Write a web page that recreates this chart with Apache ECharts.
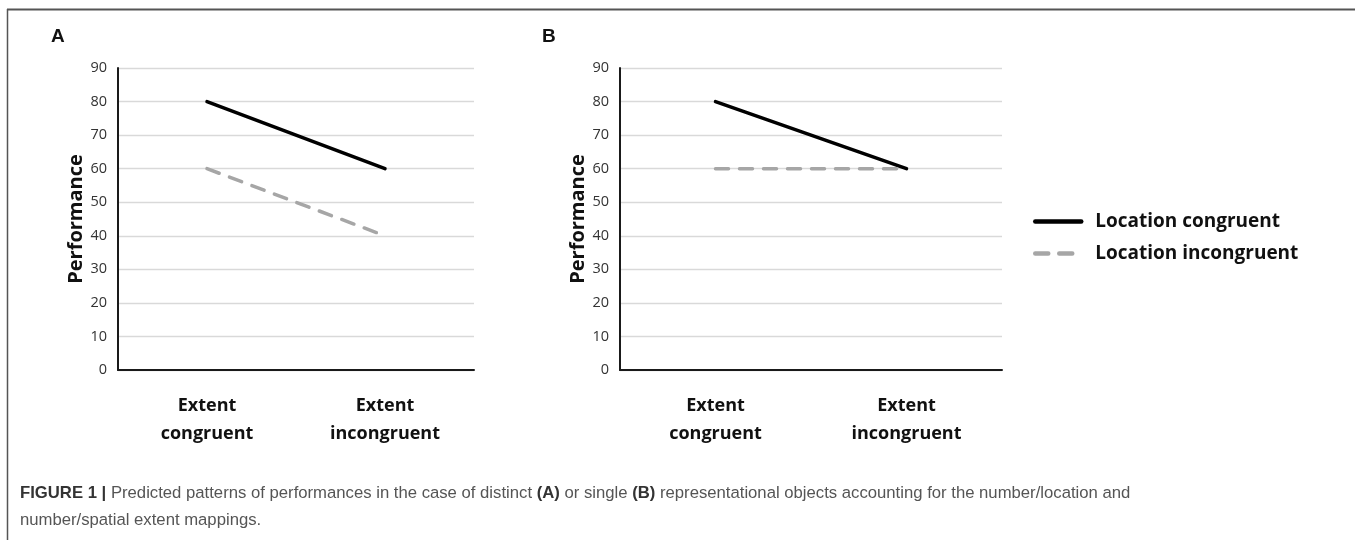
<!DOCTYPE html>
<html>
<head>
<meta charset="utf-8">
<script src="https://cdn.jsdelivr.net/npm/echarts@6/dist/echarts.min.js"></script>
<style>
html,body{margin:0;padding:0;background:#fff;}
#c{width:1355px;height:540px;}
</style>
</head>
<body>
<div id="c"></div>
<script>
var categories = ['Extent\ncongruent', 'Extent\nincongruent'];
var seriesNames = ['Location congruent', 'Location incongruent'];
var panelA_congruent = [80, 60];
var panelA_incongruent = [60, 40];
var panelB_congruent = [80, 60];
var panelB_incongruent = [60, 60];
var yMin = 0, yMax = 90, yStep = 10;
var panelLabels = ['A', 'B'];
var yTitle = 'Performance';

var chart = echarts.init(document.getElementById('c'));
var F = '"Open Sans", sans-serif';

function xAx(gi){
  return {
    type:'category', gridIndex:gi, data:categories, boundaryGap:true,
    axisLine:{show:true, lineStyle:{color:'#1a1a1a', width:2}},
    axisTick:{show:false},
    axisLabel:{fontFamily:F, fontWeight:'bold', fontSize:18, color:'#111', lineHeight:28, margin:22}
  };
}
function yAx(gi){
  return {
    type:'value', gridIndex:gi, min:yMin, max:yMax, interval:yStep,
    name:yTitle, nameLocation:'middle', nameGap:30,
    nameTextStyle:{fontFamily:F, fontWeight:'bold', fontSize:20, color:'#111'},
    axisLine:{show:true, lineStyle:{color:'#1a1a1a', width:2}},
    axisTick:{show:false},
    axisLabel:{fontFamily:F, fontSize:14.5, color:'#333', margin:11},
    splitLine:{show:true, lineStyle:{color:'#d9d9d9', width:1.3}}
  };
}
var solid = {color:'#000', width:3.5, type:'solid', cap:'round'};
var dashed = {color:'#a6a6a6', width:3.5, type:[13,11], cap:'round'};
function ser(name, gi, data, ls){
  return {name:name, type:'line', xAxisIndex:gi, yAxisIndex:gi, data:data,
    symbol:'none', showSymbol:false, lineStyle:ls, itemStyle:{color:ls.color}, silent:true, animation:false};
}

chart.setOption({
  animation:false,
  grid:[
    {left:118, top:68, width:356, height:302},
    {left:620, top:68, width:382, height:302}
  ],
  xAxis:[xAx(0), xAx(1)],
  yAxis:[yAx(0), yAx(1)],
  legend:{
    orient:'vertical', left:1028, top:207, itemWidth:46, itemHeight:14, itemGap:13,
    itemStyle:{opacity:0},
    lineStyle:{width:4.5, type:'inherit', cap:'round'},
    textStyle:{fontFamily:F, fontWeight:'bold', fontSize:19, color:'#111', padding:[0,0,0,9]},
    data:seriesNames
  },
  series:[
    ser(seriesNames[0], 0, panelA_congruent, solid),
    ser(seriesNames[1], 0, panelA_incongruent, dashed),
    ser(seriesNames[0], 1, panelB_congruent, solid),
    ser(seriesNames[1], 1, panelB_incongruent, dashed)
  ],
  graphic:[
    {type:'line', shape:{x1:7, y1:9.5, x2:1355, y2:9.5}, style:{stroke:'#555', lineWidth:2}},
    {type:'line', shape:{x1:7.5, y1:9, x2:7.5, y2:540}, style:{stroke:'#555', lineWidth:1.5}},
    {type:'text', left:51, top:27, style:{text:panelLabels[0], font:'bold 19px "Liberation Sans", Arial', fill:'#111'}},
    {type:'text', left:542, top:27, style:{text:panelLabels[1], font:'bold 19px "Liberation Sans", Arial', fill:'#111'}},
    {type:'text', left:20, top:485, style:{
      rich:{
        b:{fontFamily:'"Liberation Sans",Arial', fontWeight:'bold', fontSize:16.7, fill:'#333'},
        n:{fontFamily:'"Liberation Sans",Arial', fontSize:16.7, fill:'#555', lineHeight:27}
      },
      text:'{b|FIGURE 1 |}{n| Predicted patterns of performances in the case of distinct }{b|(A)}{n| or single }{b|(B)}{n| representational objects accounting for the number/location and}\n{n|number/spatial extent mappings.}'
    }}
  ]
});
</script>
</body>
</html>
